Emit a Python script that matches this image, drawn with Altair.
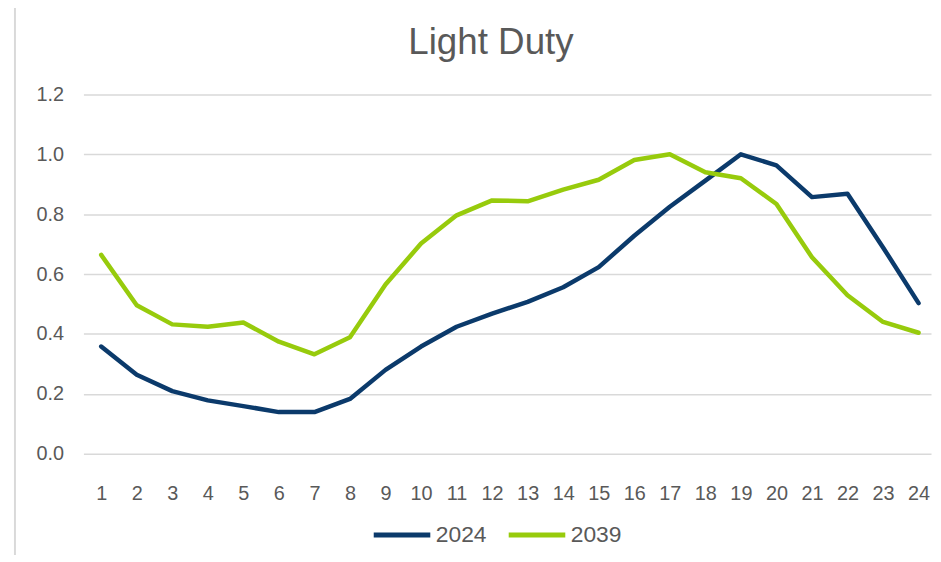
import altair as alt
import pandas as pd

hours = list(range(1, 25))
series_names = ["2024", "2039"]
v2024 = [0.358, 0.264, 0.209, 0.178, 0.159, 0.139, 0.139, 0.183, 0.280, 0.358, 0.424, 0.468,
         0.507, 0.556, 0.623, 0.728, 0.825, 0.912, 1.000, 0.963, 0.857, 0.868, 0.689, 0.503]
v2039 = [0.664, 0.496, 0.432, 0.424, 0.438, 0.374, 0.332, 0.389, 0.565, 0.702, 0.796, 0.846,
         0.843, 0.882, 0.915, 0.981, 1.000, 0.940, 0.920, 0.834, 0.656, 0.529, 0.440, 0.404]
y_ticks = [0.0, 0.2, 0.4, 0.6, 0.8, 1.0, 1.2]
colors = ["#0b3a6b", "#97cb0c"]
title_text = "Light Duty"

df = pd.DataFrame({
    "hour": hours * 2,
    "value": v2024 + v2039,
    "series": ["2024"] * 24 + ["2039"] * 24,
})

FONT = "Liberation Sans"
TXT = "#595959"

lines = alt.Chart(df).mark_line(strokeWidth=4.5, strokeJoin="round", strokeCap="round").encode(
    x=alt.X("hour:Q",
            scale=alt.Scale(domain=[0.5, 24.35], nice=False, zero=False),
            axis=alt.Axis(values=hours, title=None, grid=False, domain=False, ticks=False,
                          labelFontSize=20, labelColor=TXT, labelFont=FONT, labelPadding=30,
                          labelFlush=False)),
    y=alt.Y("value:Q",
            scale=alt.Scale(domain=[0, 1.2], nice=False),
            axis=alt.Axis(values=y_ticks, format=".1f", title=None, domain=False, ticks=False,
                          gridColor="#d9d9d9", gridWidth=1.5,
                          labelFontSize=20, labelColor=TXT, labelFont=FONT, labelPadding=20)),
    color=alt.Color("series:N",
                    scale=alt.Scale(domain=series_names, range=colors),
                    legend=alt.Legend(orient="none", legendX=290, legendY=413, direction="horizontal",
                                      title=None, symbolType="stroke", symbolSize=3249,
                                      symbolStrokeWidth=5, labelFontSize=23, labelColor=TXT,
                                      labelFont=FONT, labelOffset=3, columnPadding=11, padding=0)),
)

border = alt.Chart(pd.DataFrame({"a": [0]})).mark_rule(color="#d9d9d9", strokeWidth=2).encode(
    x=alt.value(-69), y=alt.value(-93), y2=alt.value(470)
)

title = alt.Chart(pd.DataFrame({"t": [title_text]})).mark_text(
    fontSize=37, font=FONT, color=TXT, align="center", baseline="alphabetic"
).encode(text="t:N", x=alt.value(410.6), y=alt.value(-41))

chart = alt.layer(border, lines, title).properties(
    width=854, height=362,
    autosize=alt.AutoSizeParams(type="none"),
    padding={"left": 76, "top": 85, "right": 2, "bottom": 100},
).configure_view(stroke=None)

chart.save("out.html", embed_options={"renderer": "svg", "actions": False})
